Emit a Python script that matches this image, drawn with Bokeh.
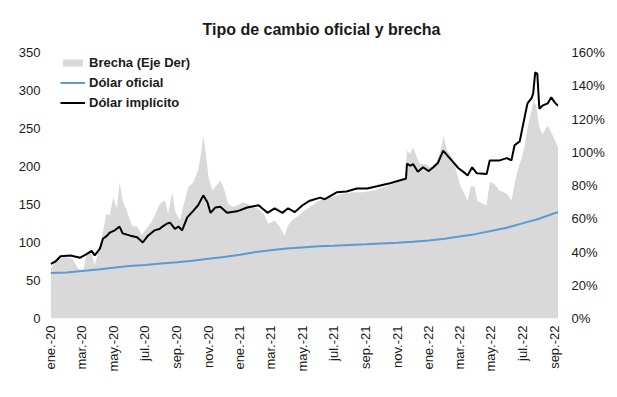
import math
import pandas as pd
from bokeh.plotting import figure
from bokeh.models import Range1d, LinearAxis, FixedTicker, PrintfTickFormatter, ColumnDataSource
from bokeh.embed import file_html
from bokeh.resources import INLINE

# ---------------- data ----------------
impl_dates = ["2020-01-01","2020-01-10","2020-01-20","2020-02-08","2020-02-27","2020-03-11","2020-03-20","2020-03-26",
              "2020-04-05","2020-04-11","2020-04-19","2020-04-24","2020-05-04","2020-05-13","2020-05-19","2020-06-03",
              "2020-06-16","2020-06-27","2020-07-07","2020-07-20","2020-07-30","2020-08-04","2020-08-13","2020-08-19",
              "2020-08-28","2020-09-04","2020-09-11","2020-09-21","2020-10-03","2020-10-12","2020-10-22","2020-10-30",
              "2020-11-05","2020-11-14","2020-11-24","2020-12-07","2020-12-26","2021-01-15","2021-02-06","2021-02-23",
              "2021-03-09","2021-03-24","2021-04-04","2021-04-17","2021-05-02","2021-05-16","2021-06-05","2021-06-14",
              "2021-07-07","2021-07-26","2021-08-15","2021-09-04","2021-09-23","2021-10-18","2021-11-12","2021-11-18",
              "2021-11-20","2021-11-26","2021-12-02","2021-12-11","2021-12-21","2022-01-01","2022-01-10","2022-01-19",
              "2022-01-29","2022-02-08","2022-02-17","2022-02-27","2022-03-11","2022-03-17","2022-03-26","2022-04-04",
              "2022-04-23","2022-04-29","2022-05-18","2022-06-01","2022-06-10","2022-06-16","2022-06-26","2022-07-01",
              "2022-07-11","2022-07-19","2022-07-22","2022-07-26","2022-07-30","2022-08-03","2022-08-09","2022-08-19",
              "2022-08-26","2022-09-02","2022-09-08"]
impl_values = [72,75,82,83,80,85,89,83,92,105,109,113,116,121,112,109,107,100,109,116,118,121,125,126,118,121,116,133,
               142,149,162,153,139,146,147,139,141,146,149,139,145,139,145,140,149,155,159,157,166,167,171,171,174,178,
               183,184,204,201,203,193,199,194,199,205,221,213,206,198,192,188,199,191,190,208,208,211,208,228,233,250,
               283,290,296,324,322,276,280,283,291,284,280]

brecha_dates = ["2020-01-01","2020-01-10","2020-01-29","2020-02-12","2020-02-23","2020-03-04","2020-03-11","2020-03-20",
                "2020-03-26","2020-04-05","2020-04-13","2020-04-17","2020-04-24","2020-05-01","2020-05-08","2020-05-13",
                "2020-05-19","2020-05-27","2020-06-06","2020-06-17","2020-06-25","2020-07-01","2020-07-14","2020-07-20",
                "2020-07-30","2020-08-09","2020-08-15","2020-08-23","2020-08-28","2020-09-07","2020-09-13","2020-09-23",
                "2020-10-03","2020-10-12","2020-10-18","2020-10-22","2020-10-28","2020-11-01","2020-11-09","2020-11-14",
                "2020-11-24","2020-11-30","2020-12-09","2020-12-19","2021-01-08","2021-01-22","2021-02-04","2021-02-16",
                "2021-02-25","2021-03-09","2021-03-19","2021-03-28","2021-04-04","2021-04-11","2021-04-21","2021-05-02",
                "2021-05-16","2021-05-29","2021-06-10","2021-06-24","2021-07-07","2021-07-19","2021-08-07","2021-08-27",
                "2021-09-16","2021-10-05","2021-10-25","2021-11-11","2021-11-17","2021-11-20","2021-11-26","2021-12-02",
                "2021-12-09","2021-12-15","2021-12-25","2022-01-04","2022-01-17","2022-01-27","2022-01-29","2022-02-06",
                "2022-02-15","2022-02-25","2022-03-03","2022-03-11","2022-03-17","2022-03-24","2022-03-31","2022-04-05",
                "2022-04-15","2022-04-23","2022-04-29","2022-05-08","2022-05-18","2022-06-01","2022-06-10","2022-06-16",
                "2022-06-22","2022-06-30","2022-07-05","2022-07-11","2022-07-19","2022-07-22","2022-07-28","2022-08-03",
                "2022-08-09","2022-08-19","2022-08-26","2022-09-02","2022-09-08"]
brecha_values = [30,35,37,36,30,29,40,39,32,44,55,63,62,73,66,82,71,65,56,55,50,53,58,62,69,71,63,76,65,59,67,79,
                 82,89,100,110,97,85,77,79,83,79,69,67,70,68,66,63,57,59,55,50,56,59,61,64,67,70,72,73,74,75,76,76,
                 77,79,81,83,84,101,99,103,97,93,93,91,94,105,110,101,97,87,80,75,71,80,79,71,69,68,82,81,77,75,71,81,
                 89,97,103,115,125,131,128,115,111,116,112,107,103]

oficial_dates = ["2020-01-01","2020-02-01","2020-03-01","2020-04-01","2020-05-01","2020-06-01","2020-07-01","2020-08-01",
                 "2020-09-01","2020-10-01","2020-11-01","2020-12-01","2021-01-01","2021-02-01","2021-03-01","2021-04-01",
                 "2021-05-01","2021-06-01","2021-07-01","2021-08-01","2021-09-01","2021-10-01","2021-11-01","2021-12-01",
                 "2022-01-01","2022-02-01","2022-03-01","2022-04-01","2022-05-01","2022-06-01","2022-07-01","2022-08-01",
                 "2022-09-01","2022-09-08"]
oficial_values = [59.8,60.5,62.5,64.5,66.8,69.0,70.5,72.5,74.0,76.0,78.5,81.0,84.0,87.5,89.8,92.0,93.5,95.0,95.7,96.8,
                  97.7,98.8,99.8,101.0,102.7,105.0,107.8,111.0,115.0,119.5,125.2,131.0,138.5,139.8]

tick_dates = ["2020-01-01","2020-03-01","2020-05-01","2020-07-01","2020-09-01","2020-11-01",
              "2021-01-01","2021-03-01","2021-05-01","2021-07-01","2021-09-01","2021-11-01",
              "2022-01-01","2022-03-01","2022-05-01","2022-07-01","2022-09-01"]
tick_labels = ["ene.-20","mar.-20","may.-20","jul.-20","sep.-20","nov.-20",
               "ene.-21","mar.-21","may.-21","jul.-21","sep.-21","nov.-21",
               "ene.-22","mar.-22","may.-22","jul.-22","sep.-22"]
left_ticks = [0, 50, 100, 150, 200, 250, 300, 350]
right_ticks = [0, 20, 40, 60, 80, 100, 120, 140, 160]

title_text = "Tipo de cambio oficial y brecha"
FONT = "Liberation Sans"
TXT = "#1a1a1a"

# ---------------- figure ----------------
p = figure(width=609, height=389, x_axis_type="datetime", output_backend="svg", toolbar_location=None,
           x_range=Range1d(pd.Timestamp("2019-12-31 12:00"), pd.Timestamp("2022-09-09")),
           y_range=Range1d(0, 350),
           min_border_left=50, min_border_right=51, min_border_top=52, min_border_bottom=71)
p.extra_y_ranges = {"right": Range1d(0, 160)}
p.outline_line_color = None
p.grid.visible = False
p.background_fill_color = "white"

p.title.text = title_text
p.title.align = "left"
p.title.offset = 152
p.title.standoff = 29
p.title.text_font = FONT
p.title.text_font_style = "bold"
p.title.text_font_size = "16px"
p.title.text_color = TXT

src_b = ColumnDataSource(dict(x=pd.to_datetime(brecha_dates), y=brecha_values))
src_o = ColumnDataSource(dict(x=pd.to_datetime(oficial_dates), y=oficial_values))
src_i = ColumnDataSource(dict(x=pd.to_datetime(impl_dates), y=impl_values))

p.varea(x="x", y1=0, y2="y", source=src_b, y_range_name="right", fill_color="#d9d9d9",
        legend_label="Brecha (Eje Der)")
p.line(x="x", y="y", source=src_o, line_color="#5b9bd5", line_width=2, legend_label="Dólar oficial")
p.line(x="x", y="y", source=src_i, line_color="#000000", line_width=2, legend_label="Dólar implícito")

# axes
tick_ms = [int(pd.Timestamp(d).value // 10**6) for d in tick_dates]
p.xaxis.ticker = FixedTicker(ticks=tick_ms)
p.xaxis.major_label_overrides = {ms: lab for ms, lab in zip(tick_ms, tick_labels)}
p.xaxis.major_label_orientation = math.pi / 2
p.xaxis.major_label_standoff = 7

p.yaxis.ticker = FixedTicker(ticks=left_ticks)
p.yaxis.major_label_standoff = 10

right_axis = LinearAxis(y_range_name="right", ticker=FixedTicker(ticks=right_ticks),
                        formatter=PrintfTickFormatter(format="%d%%"))
p.add_layout(right_axis, "right")
right_axis.major_label_standoff = 13

for ax in p.axis:
    ax.axis_line_color = None
    ax.major_tick_line_color = None
    ax.minor_tick_line_color = None
    ax.major_tick_out = 0
    ax.minor_tick_out = 0
    ax.major_label_text_font = FONT
    ax.major_label_text_font_size = "13px"
    ax.major_label_text_color = TXT

# legend
lg = p.legend[0]
lg.location = (10, 266 - 60)
lg.margin = 0
lg.padding = 0
lg.spacing = 1
lg.glyph_width = 25
lg.glyph_height = 9
lg.label_height = 19
lg.label_standoff = 4
lg.label_text_font = FONT
lg.label_text_font_style = "bold"
lg.label_text_font_size = "13px"
lg.label_text_color = TXT
lg.background_fill_alpha = 0
lg.border_line_color = None

open("out.html", "w").write(file_html(p, INLINE))
